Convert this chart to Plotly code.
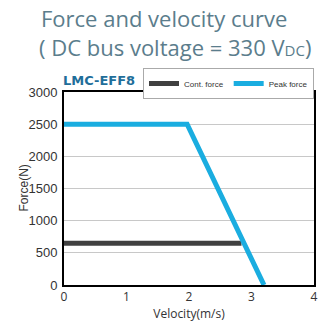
import plotly.graph_objects as go

cont_v = [0, 2.84]
cont_f = [650, 650]
peak_v = [0, 1.97, 3.2]
peak_f = [2500, 2500, 0]
x_ticks = [0, 1, 2, 3, 4]
y_ticks = [0, 500, 1000, 1500, 2000, 2500, 3000]

W, H = 330, 322
ML, MR, MT, MB = 64, 16, 92, 37
ph = H - MT - MB
pw = W - ML - MR

def px_x(x):
    return (x - ML) / pw

def px_y(y):
    return (H - MB - y) / ph

fig = go.Figure()
fig.add_trace(go.Scatter(x=cont_v, y=cont_f, mode="lines", name="Cont. force",
                         line=dict(color="#404040", width=5)))
fig.add_trace(go.Scatter(x=peak_v, y=peak_f, mode="lines", name="Peak force",
                         line=dict(color="#1AADE0", width=5)))

fig.update_layout(
    width=W, height=H,
    margin=dict(l=ML, r=MR, t=MT, b=MB, autoexpand=False),
    paper_bgcolor="white", plot_bgcolor="white",
    showlegend=True,
    legend=dict(orientation="h", x=1, xanchor="right", y=px_y(68), yanchor="top",
                bordercolor="#aaaaaa", borderwidth=1,
                font=dict(size=8, family="Liberation Sans", color="#333"),
                itemwidth=30, tracegroupgap=0, bgcolor="white"),
    font=dict(family="Liberation Sans", color="#333"),
)
fig.update_xaxes(range=[0, 4], tickvals=x_ticks, showgrid=False, zeroline=False, automargin=False,
                 showline=True, linecolor="black", linewidth=2, mirror=True,
                 ticks="", tickfont=dict(size=12, family="Open Sans", color="#333"),
                 title=dict(text="Velocity(m/s)", font=dict(size=12, family="Open Sans", color="#333"), standoff=2))
fig.update_yaxes(range=[0, 3000], tickvals=y_ticks, showgrid=True, gridcolor="#c8c8c8", gridwidth=1,
                 zeroline=False, showline=True, linecolor="black", linewidth=2, mirror=True, automargin=False,
                 ticks="", ticklabelstandoff=2,
                 tickfont=dict(size=13, family="Liberation Sans", color="#333"))

fig.add_annotation(text="Force(N)", xref="paper", yref="paper", x=px_x(23), y=0.5,
                   xanchor="center", yanchor="middle", textangle=-90, showarrow=False,
                   font=dict(size=12, family="Liberation Sans", color="#333"))
fig.add_annotation(text="Force and velocity curve", xref="paper", yref="paper",
                   x=px_x(164), y=px_y(18), xanchor="center", yanchor="middle",
                   showarrow=False, font=dict(size=22, family="Open Sans", color="#5B7D8C"))
fig.add_annotation(text="( DC bus voltage = 330 V<span style='font-size:15px'>DC</span>)",
                   xref="paper", yref="paper",
                   x=px_x(175), y=px_y(47), xanchor="center", yanchor="middle",
                   showarrow=False, font=dict(size=22, family="Open Sans", color="#5B7D8C"))
fig.add_annotation(text="<b>LMC-EFF8</b>", xref="paper", yref="paper",
                   x=px_x(61), y=px_y(80), xanchor="left", yanchor="middle",
                   showarrow=False, font=dict(size=13, family="DejaVu Sans", color="#1F6E9A"))

fig.write_html("out.html")
